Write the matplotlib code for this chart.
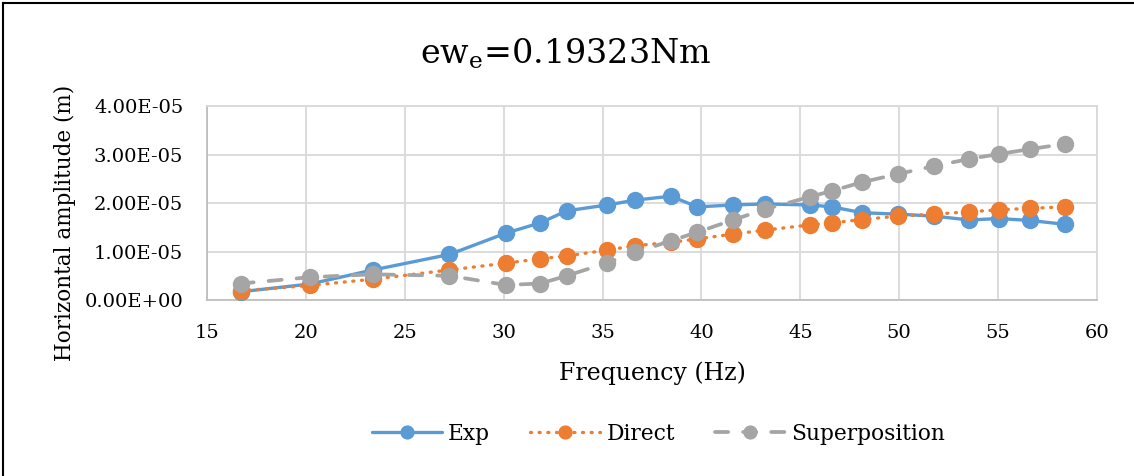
import matplotlib
matplotlib.use("Agg")
import matplotlib.pyplot as plt
from matplotlib.ticker import FuncFormatter, MultipleLocator
from matplotlib.lines import Line2D

# Excitation frequency (Hz)
freq = [16.7, 20.2, 23.4, 27.26, 30.12, 31.84, 33.2, 35.25, 36.65, 38.45, 39.8,
        41.6, 43.2, 45.5, 46.6, 48.13, 49.95, 51.75, 53.55, 55.04, 56.6, 58.4]

# Horizontal amplitude (m)
exp_amp = [0.17e-5, 0.33e-5, 0.62e-5, 0.94e-5, 1.38e-5, 1.59e-5, 1.84e-5, 1.96e-5,
           2.06e-5, 2.14e-5, 1.92e-5, 1.96e-5, 1.98e-5, 1.96e-5, 1.92e-5, 1.80e-5,
           1.77e-5, 1.73e-5, 1.65e-5, 1.68e-5, 1.64e-5, 1.56e-5]
direct_amp = [0.19e-5, 0.30e-5, 0.43e-5, 0.62e-5, 0.76e-5, 0.85e-5, 0.91e-5, 1.03e-5,
              1.12e-5, 1.19e-5, 1.26e-5, 1.36e-5, 1.44e-5, 1.55e-5, 1.59e-5, 1.66e-5,
              1.73e-5, 1.77e-5, 1.82e-5, 1.86e-5, 1.89e-5, 1.92e-5]
super_amp = [0.34e-5, 0.47e-5, 0.53e-5, 0.50e-5, 0.31e-5, 0.34e-5, 0.50e-5, 0.77e-5,
             0.98e-5, 1.22e-5, 1.40e-5, 1.65e-5, 1.87e-5, 2.13e-5, 2.25e-5, 2.43e-5,
             2.60e-5, 2.76e-5, 2.91e-5, 3.01e-5, 3.11e-5, 3.22e-5]

series_names = ["Exp", "Direct", "Superposition"]
title_text = r"ew$_{\mathregular{e}}$=0.19323Nm"
x_label = "Frequency (Hz)"
y_label = "Horizontal amplitude (m)"

plt.rcParams["font.family"] = ["DejaVu Serif"]
plt.rcParams["mathtext.fontset"] = "dejavuserif"

fig = plt.figure(figsize=(11.34, 4.76), dpi=100)
ax = fig.add_axes([0.1825, 0.3697, 0.7849, 0.4076])

blue, orange, gray = "#5b9bd5", "#ed7d31", "#a5a5a5"
ms = 11.5
ax.plot(freq, exp_amp, color=blue, lw=2.4, marker="o", ms=ms,
        label=series_names[0], zorder=3, solid_capstyle="round")
ax.plot(freq, direct_amp, color=orange, lw=2.4, ls=(0, (0.3, 2.3)),
        dash_capstyle="round", marker="o", ms=ms, label=series_names[1], zorder=4)
ax.plot(freq, super_amp, color=gray, lw=2.7, ls=(0, (3.5, 4)),
        dash_capstyle="round", marker="o", ms=ms, label=series_names[2], zorder=5)

ax.set_xlim(15, 60)
ax.set_ylim(0, 4e-5)
ax.xaxis.set_major_locator(MultipleLocator(5))
ax.yaxis.set_major_locator(MultipleLocator(1e-5))
ax.yaxis.set_major_formatter(FuncFormatter(lambda v, p: f"{v:.2E}"))
ax.grid(True, color="#d9d9d9", lw=1.3)
ax.set_axisbelow(True)
for s in ax.spines.values():
    s.set_color("#d9d9d9")
    s.set_linewidth(1.3)
ax.spines["bottom"].set_color("#bfbfbf")
ax.spines["left"].set_color("#bfbfbf")
ax.tick_params(length=0, labelsize=14, colors="black")
ax.tick_params(axis="y", pad=17)
ax.tick_params(axis="x", pad=17.5)

ax.set_xlabel(x_label, fontsize=17, labelpad=14)
ax.set_ylabel(y_label, fontsize=15.5)
ax.yaxis.set_label_coords(-0.147, 0.40)
fig.text(0.499, 0.888, title_text, fontsize=24, ha="center", va="center")

leg = fig.legend(loc="center", bbox_to_anchor=(0.5807, 0.088), ncol=3, frameon=False,
                 fontsize=15.7, handlelength=3.2, columnspacing=1.85,
                 handletextpad=0.28, markerscale=0.8)

# outer frame on the top and left
fig.add_artist(Line2D([0.003, 0.003], [0, 0.994], transform=fig.transFigure,
                      color="black", lw=1.5))
fig.add_artist(Line2D([0.003, 1.0], [0.994, 0.994], transform=fig.transFigure,
                      color="black", lw=1.5))

fig.savefig("out.png", dpi=100)
